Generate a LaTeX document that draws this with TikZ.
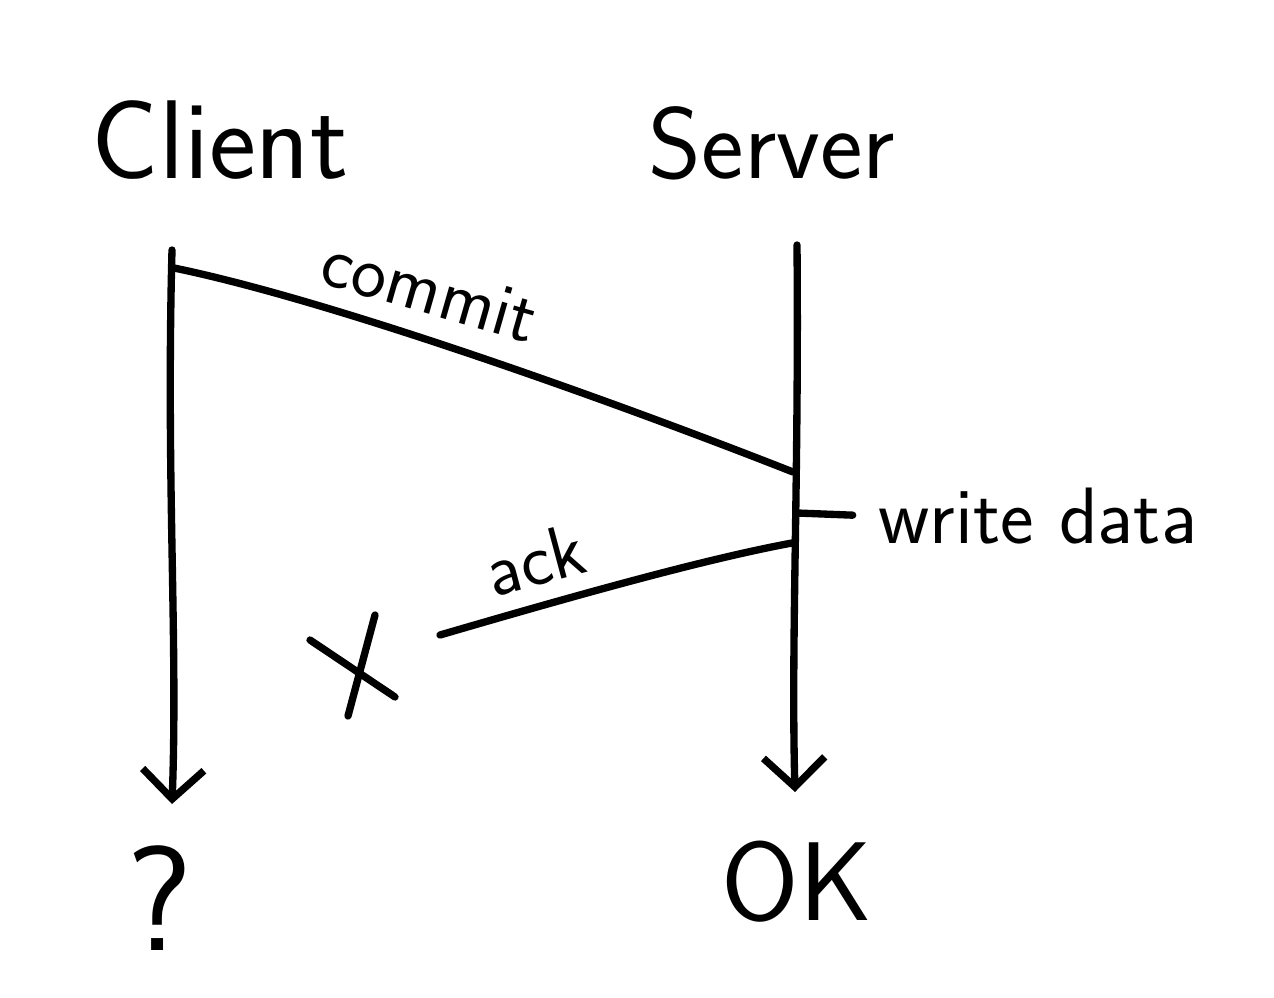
\documentclass[tikz,border=0pt]{standalone}
\usetikzlibrary{arrows.meta,calc}

\tikzset{every picture/.style={line width=5.5pt}}
\tikzset{
  hand/.style={line cap=round, line join=round},
  lifeline/.style={hand, -{Straight Barb[length=22pt,width=46pt]}},
  big label/.style={inner sep=0.75pt, font=\sffamily\fontsize{84}{90}\selectfont},
  msg label/.style={inner sep=0.75pt, font=\sffamily\fontsize{56}{62}\selectfont},
}

\begin{document}
\begin{tikzpicture}[x=0.75pt,y=0.75pt,yscale=-1,xscale=1]
\useasboundingbox (0,0) rectangle (1274,998);

% Text Node
\node (client) [big label] at (220,140) {Client};
% Text Node
\node (server) [big label, font=\sffamily\fontsize{76}{84}\selectfont] at (772,143) {Server};

% lifeline ends
\coordinate (c top) at (172,250);
\coordinate (c bot) at (172,804);
\coordinate (s top) at (797,245);
\coordinate (s bot) at (795,792);

%Straight Lines: client lifeline
\draw [lifeline] (c top) .. controls (166,480) and (178,640) .. (c bot);
%Straight Lines: server lifeline
\draw [lifeline] (s top) .. controls (799,480) and (791,640) .. (s bot);

% commit message
\coordinate (commit from) at (174,268);
\coordinate (commit to) at (793,472);
\draw [hand] (commit from) .. controls (330,300) and (610,400) .. (commit to);
\node (commit) [msg label, rotate=-16] at (430,290) {commit};

% write data tick
\coordinate (wd) at (797,513);
\node (write) [msg label, anchor=west, font=\sffamily\fontsize{60}{66}\selectfont] at (874,516) {write data};
\draw [hand, shorten >=16pt] (wd) -- (write.west);

% ack message, lost on the way
\coordinate (ack from) at (792,543);
\coordinate (ack to) at (440,635);
\draw [hand] (ack from) .. controls (700,560) and (560,600) .. (ack to);
\node (ack) [msg label, rotate=15] at (535,560) {ack};

% X: lost
\coordinate (lost) at (353,665);
\draw [hand] ($(lost)+(-43,-25)$) -- ($(lost)+(42,32)$);
\draw [hand] ($(lost)+(22,-50)$) -- ($(lost)+(-5,51)$);

% Text Node
\node (what) [font=\sffamily\fontsize{112}{120}\selectfont] at (160,898) {?};
% Text Node
\node (ok) [big label] at (797,882) {OK};

\end{tikzpicture}
\end{document}
